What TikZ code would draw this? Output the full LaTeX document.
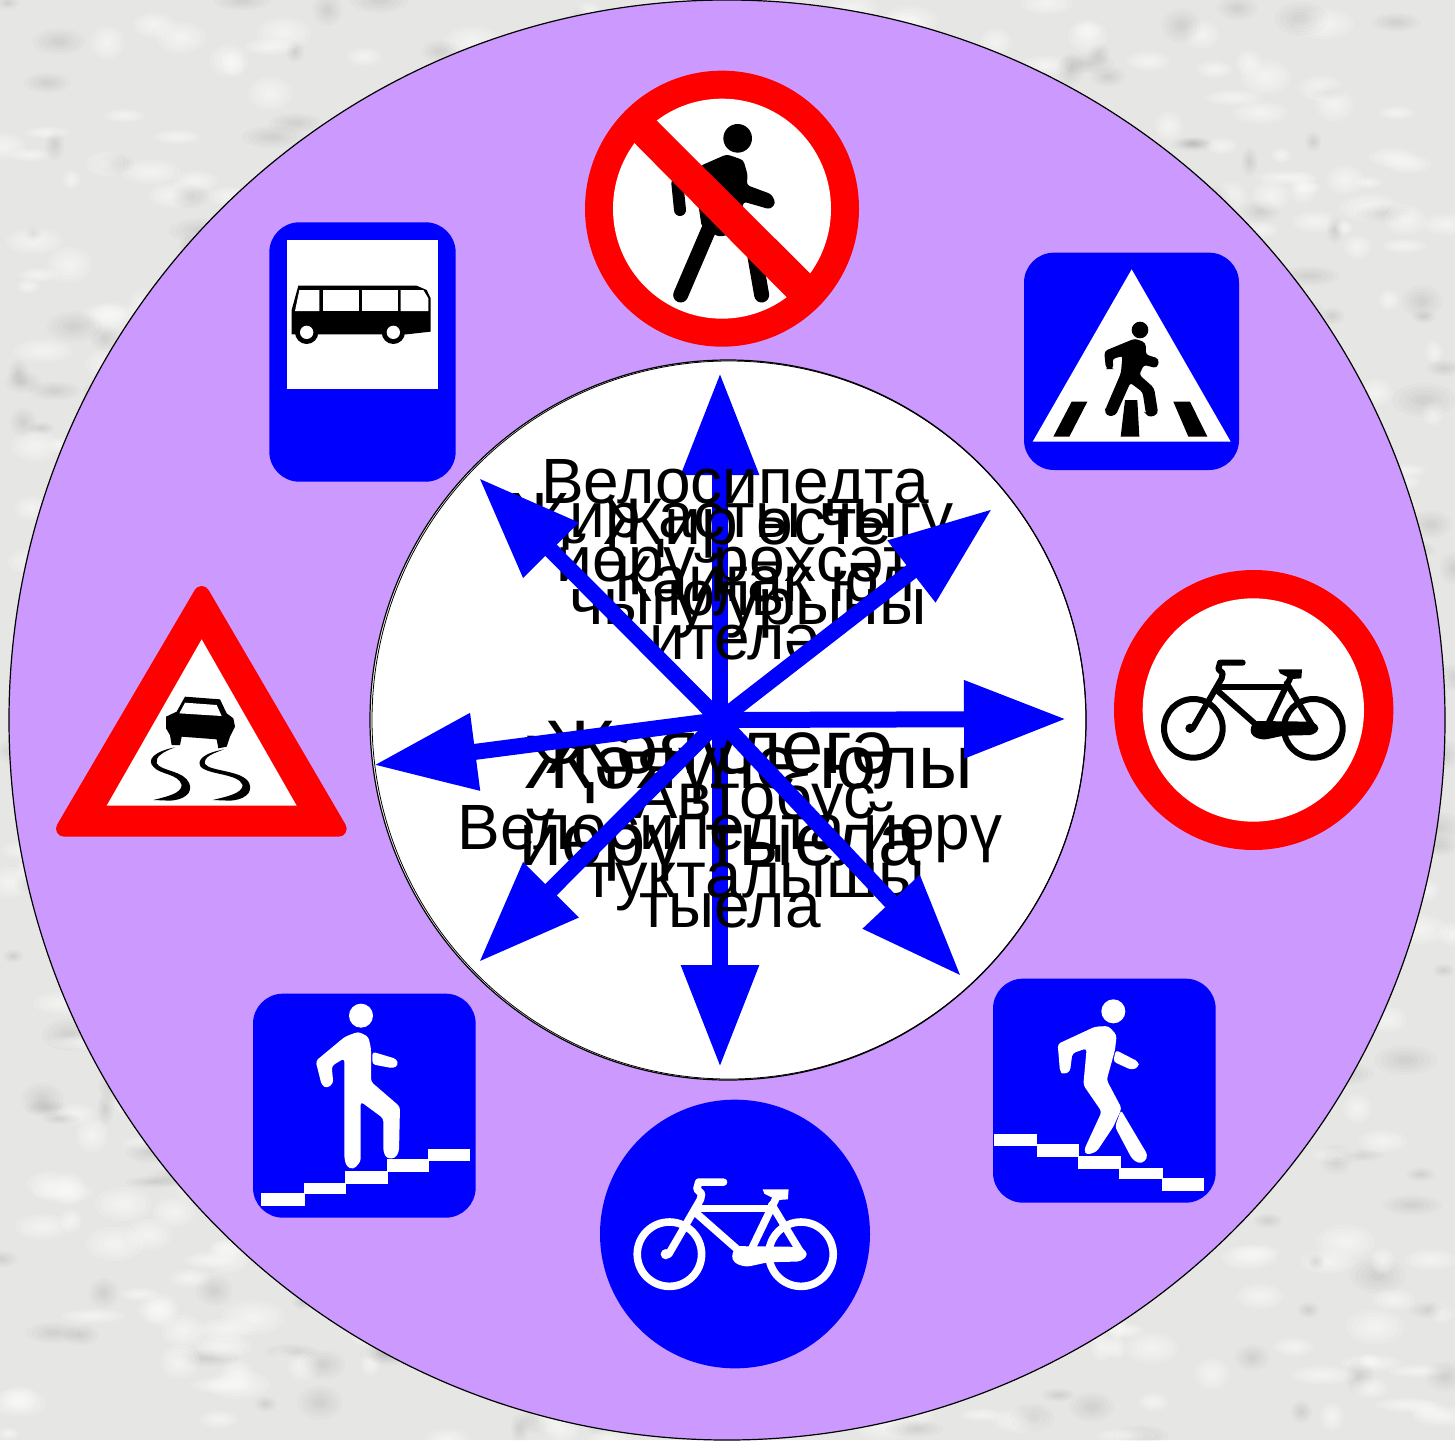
\documentclass[tikz,border=0pt]{standalone}
\usepackage{fontspec}
\setmainfont{Liberation Sans}
\usetikzlibrary{arrows.meta}
\definecolor{lilac}{HTML}{CC99FF}
\definecolor{signblue}{HTML}{0000FF}
\definecolor{signred}{HTML}{FF0000}
\definecolor{bgbase}{HTML}{E6E6E4}
\tikzset{
  blockarrow/.style={draw=signblue,line width=8pt,-{Triangle[length=51pt,width=37pt,fill=signblue]},shorten <=-3pt},
  lbl/.style 2 args={align=center,text=black,inner sep=0pt,font=\fontsize{#1}{#2}\selectfont},
  limb/.style={line cap=round,line join=round},
  soft/.style={rounded corners=1.6pt},
  plate/.style={fill=signblue,rounded corners=15pt}
}
\newcommand{\softblob}[5]{%
  \foreach \lay in {1,.8,.6,.4,.25}{
    \fill[#5] (#1,#2) ellipse[x radius=#3*\lay,y radius=#4*\lay];
  }%
}
\newcommand{\bikeglyph}[2]{%
  \draw[#1,line width=#2,fill=none] (250,490) circle[radius=88];
  \draw[#1,line width=#2,fill=none] (610,490) circle[radius=88];
  \draw[#1,line width=#2,limb,fill=none] (248,490) -- (335,340) -- (338,325) -- (325,312) -- (330,293) -- (398,293);
  \draw[#1,line width=#2,limb,fill=none] (325,365) -- (530,365);
  \draw[#1,line width=#2,limb,fill=none] (320,375) -- (445,485);
  \draw[#1,line width=#2,limb,fill=none] (545,330) -- (475,475);
  \draw[#1,line width=#2,limb,fill=none] (530,355) -- (612,490);
  \fill[#1,rounded corners=2pt] (432,468) -- (610,470) -- (630,490) -- (610,510) -- (520,512) -- (460,525) -- (428,515) -- (419,495) -- cycle;
  \fill[#1] (505,313) -- (576,313) -- (574,340) -- (545,342) -- (510,325) -- cycle;
  \fill[#1] (240,490) circle[radius=14];
}
\begin{document}
\begin{tikzpicture}[x=0.5pt,y=-0.5pt]
\useasboundingbox (0,0) rectangle (1455,1440);
% mottled background
\begin{scope}
\clip (0,0) rectangle (1455,1440);
\fill[bgbase] (0,0) rectangle (1455,1440);
\pgfmathsetseed{11}
\foreach \i in {1,...,1100}{
  \pgfmathsetmacro\bx{rnd*1455}
  \pgfmathsetmacro\by{rnd*1440}
  \pgfmathsetmacro\brx{8+rnd*24}
  \pgfmathsetmacro\bry{6+rnd*12}
  \pgfmathsetmacro\bsw{rnd}
  \ifdim\bsw pt<0.6pt
    \softblob{\bx}{\by}{\brx}{\bry}{white,opacity=.14}
  \else
    \softblob{\bx}{\by}{\brx}{\bry}{black,opacity=.016}
  \fi
}
\end{scope}
% discs
\draw[fill=lilac,draw=black,line width=.6pt] (727,720) ellipse[x radius=718,y radius=720];
\draw[fill=white,draw=black,line width=.6pt] (728,720) ellipse[x radius=358,y radius=360];
\draw[draw=black,line width=.4pt] (729,720) ellipse[x radius=357,y radius=359];

% sign: no pedestrians
\begin{scope}[shift={(570,60)},scale=1/3]
  \fill[signred] (456,446) ellipse[x radius=411,y radius=414];
  \fill[white] (456,446) ellipse[x radius=327,y radius=330];
  \fill[black] (503,235) circle[radius=43];
  \fill[black,soft] (390,318) -- (470,283) -- (520,300) -- (533,345) -- (530,375) -- (605,403) -- (617,430) -- (600,448) -- (520,425) -- (505,520) -- (445,530) -- (395,500) -- (380,400) -- cycle;
  \draw[black,line width=7.5pt,limb] (420,500) -- (332,705);
  \draw[black,line width=7.5pt,limb] (555,590) -- (575,705);
  \draw[black,line width=6pt,limb] (322,370) -- (330,450);
  \fill[signred] (160,215) -- (223,145) -- (755,675) -- (685,747) -- cycle;
\end{scope}

% sign: pedestrian crossing
\begin{scope}[shift={(1010,240)},scale=1/3]
  \fill[plate] (42,38) rectangle (687,690);
  \fill[white] (365,88) -- (662,605) -- (68,605) -- cycle;
  \fill[black] (390,270) circle[radius=25];
  \filldraw[black,line width=.8pt,soft] (285,335) -- (375,298) -- (405,310) -- (405,345) -- (445,358) -- (440,382) -- (400,372) -- (385,405) -- (430,445) -- (442,520) -- (420,530) -- (410,520) -- (400,455) -- (360,425) -- (315,525) -- (290,525) -- (288,510) -- (335,400) -- (340,345) -- (305,355) -- (308,385) -- (290,385) -- cycle;
  \fill[black] (185,485) -- (232,485) -- (178,590) -- (130,590) -- cycle;
  \fill[black] (345,480) -- (382,480) -- (388,590) -- (332,590) -- cycle;
  \fill[black] (490,485) -- (540,485) -- (592,590) -- (535,590) -- cycle;
\end{scope}

% sign: bus stop
\begin{scope}[shift={(260,215)},scale=1/3]
  \fill[plate] (28,22) rectangle (587,800);
  \fill[white] (82,75) rectangle (533,523);
  \fill[black] (115,212) -- (470,212) -- (500,225) -- (512,250) -- (512,350) -- (440,358) -- (95,358) -- (95,285) -- cycle;
  \fill[white] (118,225) -- (178,225) -- (178,288) -- (105,288) -- cycle;
  \fill[white] (188,225) rectangle (297,288);
  \fill[white] (306,225) rectangle (414,288);
  \fill[white] (422,225) -- (490,225) -- (505,250) -- (505,288) -- (422,288) -- cycle;
  \fill[black] (140,352) circle[radius=35];
  \fill[white] (140,352) circle[radius=20];
  \fill[black] (400,352) circle[radius=35];
  \fill[white] (400,352) circle[radius=20];
\end{scope}

% sign: no bicycles
\begin{scope}[shift={(1110,565)},scale=1/3]
  \fill[signred] (431,435) ellipse[x radius=419,y radius=420];
  \fill[white] (430,435) ellipse[x radius=332,y radius=335];
  \bikeglyph{black}{3pt}
\end{scope}

% sign: slippery road
\begin{scope}[shift={(50,580)},scale=1/3]
  \filldraw[fill=signred,draw=signred,line width=8pt,line join=round] (455,42) -- (42,746) -- (866,746) -- cycle;
  \fill[white] (455,178) -- (740,677) -- (170,677) -- cycle;
  \fill[black] (405,350) -- (510,358) -- (530,400) -- (550,415) -- (555,440) -- (540,470) -- (530,500) -- (505,505) -- (500,478) -- (395,470) -- (390,495) -- (365,495) -- (360,465) -- (348,445) -- (348,410) -- (380,395) -- cycle;
  \fill[white] (405,368) -- (500,375) -- (515,408) -- (388,400) -- cycle;
  \fill[black] (375,502) .. controls (310,515) and (290,540) .. (310,560) .. controls (330,585) and (385,580) .. (395,615) .. controls (395,640) and (350,650) .. (310,660) -- (360,662) .. controls (400,660) and (430,640) .. (418,610) .. controls (400,570) and (335,575) .. (320,550) .. controls (315,530) and (340,515) .. cycle;
  \fill[black] (522,508) .. controls (460,520) and (440,540) .. (452,560) .. controls (475,585) and (565,580) .. (578,615) .. controls (578,640) and (530,650) .. (488,660) -- (540,662) .. controls (580,660) and (610,640) .. (598,610) .. controls (580,570) and (480,575) .. (465,552) .. controls (460,530) and (490,520) .. cycle;
\end{scope}

% sign: stairs up
\begin{scope}[shift={(245,985)},scale=1/3]
  \fill[plate] (24,26) rectangle (692,698);
  \fill[white] (348,92) circle[radius=36];
  \fill[white,soft] (212,228) -- (300,155) -- (340,140) -- (370,155) -- (378,190) -- (378,290) -- (465,365) -- (462,500) -- (450,520) -- (425,520) -- (415,500) -- (415,400) -- (347,350) -- (347,530) -- (325,553) -- (305,545) -- (298,520) -- (298,220) -- (260,243) -- (265,295) -- (245,310) -- (230,300) -- cycle;
  \fill[white,soft] (382,200) -- (455,222) -- (460,240) -- (445,250) -- (382,238) -- cycle;
  \fill[white] (48,625) rectangle (180,662);
  \fill[white] (177,593) rectangle (303,628);
  \fill[white] (300,558) rectangle (430,598);
  \fill[white] (427,523) rectangle (553,562);
  \fill[white] (550,493) rectangle (676,528);
\end{scope}

% sign: stairs down
\begin{scope}[shift={(985,970)},scale=1/3]
  \fill[plate] (24,26) rectangle (692,698);
  \fill[white] (385,124) circle[radius=36];
  \fill[white,soft] (218,222) -- (330,170) -- (370,168) -- (395,195) -- (390,240) -- (365,330) -- (410,415) -- (385,470) -- (335,545) -- (305,555) -- (297,540) -- (350,425) -- (295,345) -- (305,235) -- (262,250) -- (255,305) -- (235,313) -- (225,305) -- cycle;
  \fill[white,soft] (392,240) -- (460,275) -- (462,290) -- (440,300) -- (385,275) -- cycle;
  \fill[white,soft] (408,420) -- (488,555) -- (480,575) -- (460,580) -- (440,565) -- (390,470) -- cycle;
  \fill[white] (28,493) rectangle (157,528);
  \fill[white] (157,523) rectangle (283,562);
  \fill[white] (280,558) rectangle (407,598);
  \fill[white] (403,593) rectangle (533,628);
  \fill[white] (530,625) rectangle (657,662);
\end{scope}

% sign: cycle path
\begin{scope}[shift={(590,1095)},scale=1/3]
  \fill[signblue] (435,417) ellipse[x radius=405,y radius=403];
  \begin{scope}[shift={(-36,-60)},scale=1.097]
    \bikeglyph{white}{3.8pt}
  \end{scope}
\end{scope}

% arrows and labels
\coordinate (hub) at (720,720);
\coordinate (tipN) at (720,373);
\coordinate (tipS) at (720,1067);
\coordinate (tipE) at (1066,719);
\coordinate (tipW) at (374,765);
\coordinate (tipNW) at (479,478);
\coordinate (tipNE) at (992,509);
\coordinate (tipSW) at (479,962);
\coordinate (tipSE) at (961,976);

\draw[blockarrow] (hub) -- (tipN);
\draw[blockarrow] (hub) -- (tipS);

\node[lbl={32}{39}] (t1) at (735,560) {Велосипедта\\йөрү рөхсәт\\ителә};
\node[lbl={32}{39}] (t2) at (732,555) {Җир асты чыгу\\юлы};
\node[lbl={33}{40}] (t3) at (748,569) {Җир өсте\\чыгу урыны};
\node[lbl={32.5}{39}] (t4) at (765,578) {Кайгак юл};
\node[lbl={38}{46}] (t5) at (720,801) {Җәяүлегә\\йөрү тыела};
\node[lbl={38}{46}] (t6) at (749,770) {Җәяүче юлы};
\node[lbl={32.5}{39.5}] (t7) at (755,841) {Автобус\\тукталышы};
\node[lbl={32}{39}] (t8) at (730,865) {Велосипедта йөрү\\тыела};

\foreach \t in {tipE,tipW,tipNW,tipNE,tipSW,tipSE}{
  \draw[blockarrow] (hub) -- (\t);
}
\end{tikzpicture}
\end{document}
